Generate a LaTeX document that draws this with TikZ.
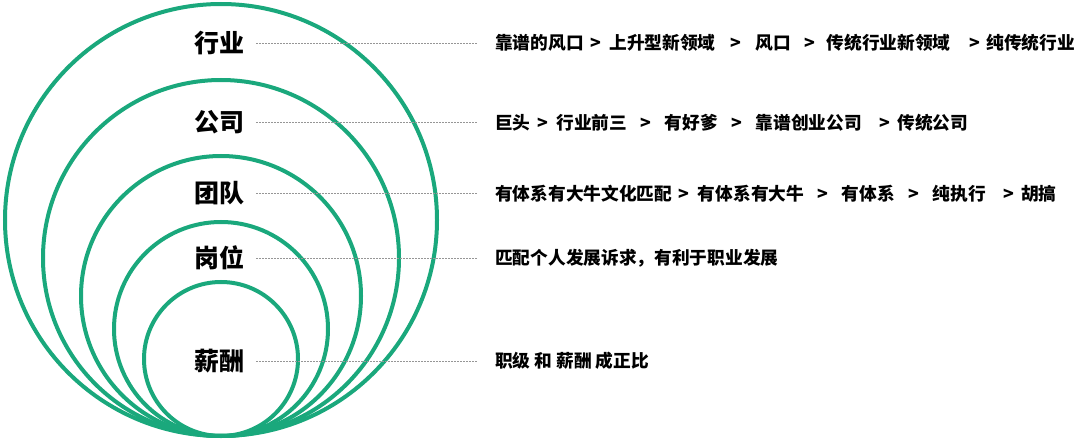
\documentclass[tikz,border=0pt]{standalone}
\usepackage{fontspec}
\newfontfamily\cjkfont{Noto Sans CJK SC}
\usetikzlibrary{positioning}
\definecolor{RingGreen}{RGB}{26, 168, 124}
\definecolor{LeaderGray}{RGB}{150, 150, 150}
% one ">" step, with the gaps before and after it
\newcommand{\rankstep}[2]{\hspace{#1}>\hspace{#2}}
\tikzset{
    ring/.style={draw=RingGreen, line width=4pt},
    layername/.style={font=\cjkfont\bfseries\fontsize{25}{30}\selectfont, inner sep=0pt, text height=20.5pt, text depth=1.8pt},
    layertext/.style={font=\cjkfont\bfseries\fontsize{17.7}{21}\selectfont, inner sep=0pt, text height=14.5pt, text depth=1.2pt, anchor=west},
    leader/.style={draw=LeaderGray, line width=0.8pt, dash pattern=on 1.5pt off 1.5pt, shorten <=12pt, shorten >=17pt}
}
\begin{document}
\begin{tikzpicture}[x=1pt, y=-1pt]
        \useasboundingbox (0,0) rectangle (1080,441);
        % rings, all touching at the bottom point
        \coordinate (base) at (221,436);
        \draw[ring] (base) ++(0,-216) circle[radius=216pt];
        \draw[ring] (base) ++(0,-178) circle[radius=178pt];
        \draw[ring] (base) ++(0,-140) circle[radius=140pt];
        \draw[ring] (base) ++(0,-107) circle[radius=107pt];
        \draw[ring] (base) ++(0,-77) circle[radius=77pt];

        % layer names
        \node[layername] (hangye) at (219,43) {行业};
        \node[layername] (gongsi) at (219,122.5) {公司};
        \node[layername] (tuandui) at (219,193.5) {团队};
        \node[layername] (gangwei) at (219,258) {岗位};
        \node[layername] (xinchou) at (219,361) {薪酬};

        % descriptions
        \node[layertext] (hangyeText) at (495,43) {靠谱的风口\rankstep{6.5pt}{8.5pt}上升型新领域\rankstep{14.5pt}{14.5pt}风口\rankstep{13.5pt}{11.5pt}传统行业新领域\rankstep{18.5pt}{6.5pt}纯传统行业};
        \node[layertext] (gongsiText) at (495,122.5) {巨头\rankstep{6.5pt}{8.5pt}行业前三\rankstep{13.5pt}{13.5pt}有好爹\rankstep{13.5pt}{13.5pt}靠谱创业公司\rankstep{17.5pt}{7pt}传统公司};
        \node[layertext] (tuanduiText) at (495,193.5) {有体系有大牛文化匹配\rankstep{6.5pt}{8.5pt}有体系有大牛\rankstep{13.5pt}{13.5pt}有体系\rankstep{13.5pt}{13.5pt}纯执行\rankstep{17.5pt}{7pt}胡搞};
        \node[layertext] (gangweiText) at (495,258) {匹配个人发展诉求，有利于职业发展};
        \node[layertext] (xinchouText) at (495,361) {职级 和 薪酬 成正比};

        % dotted leaders
        \draw[leader] (hangye) -- (hangyeText);
        \draw[leader] (gongsi) -- (gongsiText);
        \draw[leader] (tuandui) -- (tuanduiText);
        \draw[leader] (gangwei) -- (gangweiText);
        \draw[leader] (xinchou) -- (xinchouText);
    \end{tikzpicture}
\end{document}
